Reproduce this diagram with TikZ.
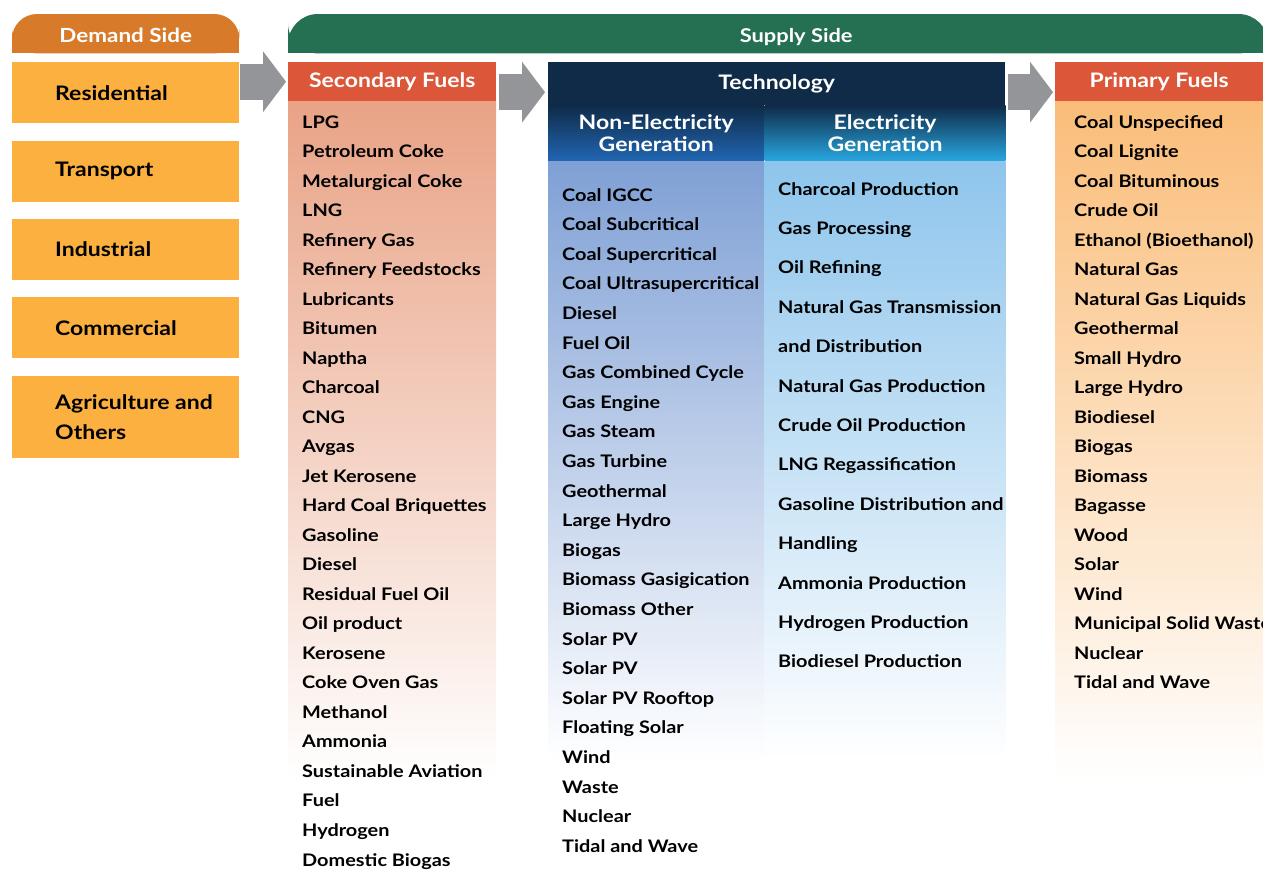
\documentclass[tikz,border=0pt]{standalone}
\usepackage{fontspec}
\setmainfont{Lato}[FakeStretch=1.15]
\usetikzlibrary{positioning,arrows.meta,backgrounds}

\definecolor{demandhead}{HTML}{D77B2A}
\definecolor{demandfill}{HTML}{FBB040}
\definecolor{supplygreen}{HTML}{256F53}
\definecolor{fuelred}{HTML}{DC563A}
\definecolor{secfill}{HTML}{E9A386}
\definecolor{primfill}{HTML}{FABD79}
\definecolor{navy}{HTML}{0F2B48}
\definecolor{nonelecblue}{HTML}{2166B2}
\definecolor{elecblue}{HTML}{28A6DF}
\definecolor{nonelecfill}{HTML}{7FA0D5}
\definecolor{elecfill}{HTML}{8EC5EC}
\definecolor{arrowgray}{HTML}{939598}

\begin{document}
\begin{tikzpicture}[x=1pt, y=-1pt,
    node distance=17pt, % gap between the demand boxes
    every node/.style={inner sep=0pt, font=\fontsize{17.3}{20}\selectfont\bfseries},
    sidehead/.style={text=white, minimum height=39pt, text height=17pt, text depth=0pt, font=\fontsize{19.5}{22}\selectfont\bfseries},
    demandbox/.style={fill=demandfill, minimum width=227pt, minimum height=61pt},
    demandlabel/.style={anchor=west, xshift=43pt, align=left, font=\fontsize{20}{30}\selectfont\bfseries},
    colhead/.style={fill=fuelred, text=white, minimum width=208pt, minimum height=39pt, font=\fontsize{20}{22}\selectfont\bfseries},
    subhead/.style={text=white, minimum height=55pt, align=center, font=\fontsize{20}{22}\selectfont\bfseries},
    colbody/.style={bottom color=white, draw=none},
    item/.style={anchor=base west},
    blockarrow/.style={draw=arrowgray, line width=36pt, -{Triangle[length=23pt, width=61pt, line width=0pt]}}
  ]
  \useasboundingbox (0,0) rectangle (1263,870);
  \clip (0,0) rectangle (1263,870);

  % Demand side
  \node[sidehead, anchor=north west, minimum width=227pt] (demhead) at (12,14) {Demand Side};
  \node[demandbox, anchor=north west, label={[demandlabel]west:Residential}] (res) at (12,62) {};
  \node[demandbox, below=of res, label={[demandlabel]west:Transport}] (trans) {};
  \node[demandbox, below=of trans, label={[demandlabel]west:Industrial}] (ind) {};
  \node[demandbox, below=of ind, label={[demandlabel]west:Commercial}] (com) {};
  \node[demandbox, below=of com, minimum height=82pt, label={[demandlabel]west:Agriculture and\\Others}] (agri) {};

  % Supply side
  \node[sidehead, anchor=north west, minimum width=1016pt, font=\fontsize{19}{22}\selectfont\bfseries] (suphead) at (288,14) {Supply Side};

  \node[colhead, anchor=north west] (sechead) at (288,62) {Secondary Fuels};
  \node[colbody, top color=secfill, minimum width=208pt, minimum height=679pt, below=0pt of sechead] (secbody) {};

  \node[fill=navy, text=white, anchor=north west, minimum width=457pt, minimum height=43pt,
        font=\fontsize{20}{22}\selectfont\bfseries] (techhead) at (548,62) {Technology};
  \node[subhead, top color=navy, bottom color=nonelecblue, minimum width=216pt, anchor=north west]
        (nonelechead) at (techhead.south west) {Non-Electricity\\Generation};
  \node[subhead, top color=navy, bottom color=elecblue, minimum width=241pt, right=0pt of nonelechead]
        (elechead) {Electricity\\Generation};
  \node[colbody, top color=nonelecfill, minimum width=216pt, minimum height=600pt, below=0pt of nonelechead] (nonelecbody) {};
  \node[colbody, top color=elecfill, minimum width=241pt, minimum height=600pt, below=0pt of elechead] (elecbody) {};

  \node[colhead, anchor=north west] (primhead) at (1055,62) {Primary Fuels};
  \node[colbody, top color=primfill, minimum width=208pt, minimum height=679pt, below=0pt of primhead] (primbody) {};

  \begin{scope}[on background layer]
    \fill[demandhead, rounded corners=25pt] (demhead.north west) rectangle (demhead.south east);
    \fill[demandhead] (demhead.west) rectangle (demhead.south east);
    \fill[supplygreen, rounded corners=30pt] (suphead.north west) rectangle ([xshift=-36pt]suphead.south east);
    \fill[supplygreen] (suphead.west) rectangle ([xshift=-36pt]suphead.south east);
  \end{scope}

  % Lists
  \foreach \txt [count=\i] in {LPG, Petroleum Coke, Metalurgical Coke, LNG, Refinery Gas, Refinery Feedstocks,
      Lubricants, Bitumen, Naptha, Charcoal, CNG, Avgas, Jet Kerosene, Hard Coal Briquettes, Gasoline, Diesel,
      Residual Fuel Oil, Oil product, Kerosene, Coke Oven Gas, Methanol, Ammonia, Sustainable Aviation, Fuel,
      Hydrogen, Domestic Biogas}
    \node[item] (sec-\i) at (302,{128+29.52*(\i-1)}) {\txt};

  \foreach \txt [count=\i] in {Coal IGCC, Coal Subcritical, Coal Supercritical, Coal Ultrasupercritical, Diesel,
      Fuel Oil, Gas Combined Cycle, Gas Engine, Gas Steam, Gas Turbine, Geothermal, Large Hydro, Biogas,
      Biomass Gasigication, Biomass Other, Solar PV, Solar PV, Solar PV Rooftop, Floating Solar, Wind, Waste,
      Nuclear, Tidal and Wave}
    \node[item] (nonel-\i) at (562,{201+29.6*(\i-1)}) {\txt};

  \foreach \txt [count=\i] in {Charcoal Production, Gas Processing, Oil Refining, Natural Gas Transmission,
      and Distribution, Natural Gas Production, Crude Oil Production, LNG Regassification,
      Gasoline Distribution and, Handling, Ammonia Production, Hydrogen Production, Biodiesel Production}
    \node[item] (el-\i) at (778,{195+39.4*(\i-1)}) {\txt};

  \foreach \txt [count=\i] in {Coal Unspecified, Coal Lignite, Coal Bituminous, Crude Oil, Ethanol (Bioethanol),
      Natural Gas, Natural Gas Liquids, Geothermal, Small Hydro, Large Hydro, Biodiesel, Biogas, Biomass,
      Bagasse, Wood, Solar, Wind, Municipal Solid Waste, Nuclear, Tidal and Wave}
    \node[item] (prim-\i) at (1074,{128+29.5*(\i-1)}) {\txt};

  % Arrows
  \coordinate (mid) at ([yshift=-10.5pt]sechead.east);
  \draw[blockarrow, shorten <=1pt, shorten >=2pt] (res.east |- sechead.west) -- (sechead.west);
  \draw[blockarrow, shorten <=3pt, shorten >=3pt] (mid) -- (mid -| techhead.west);
  \draw[blockarrow, shorten <=3pt, shorten >=2pt] (mid -| techhead.east) -- (mid -| primhead.west);
\end{tikzpicture}
\end{document}
